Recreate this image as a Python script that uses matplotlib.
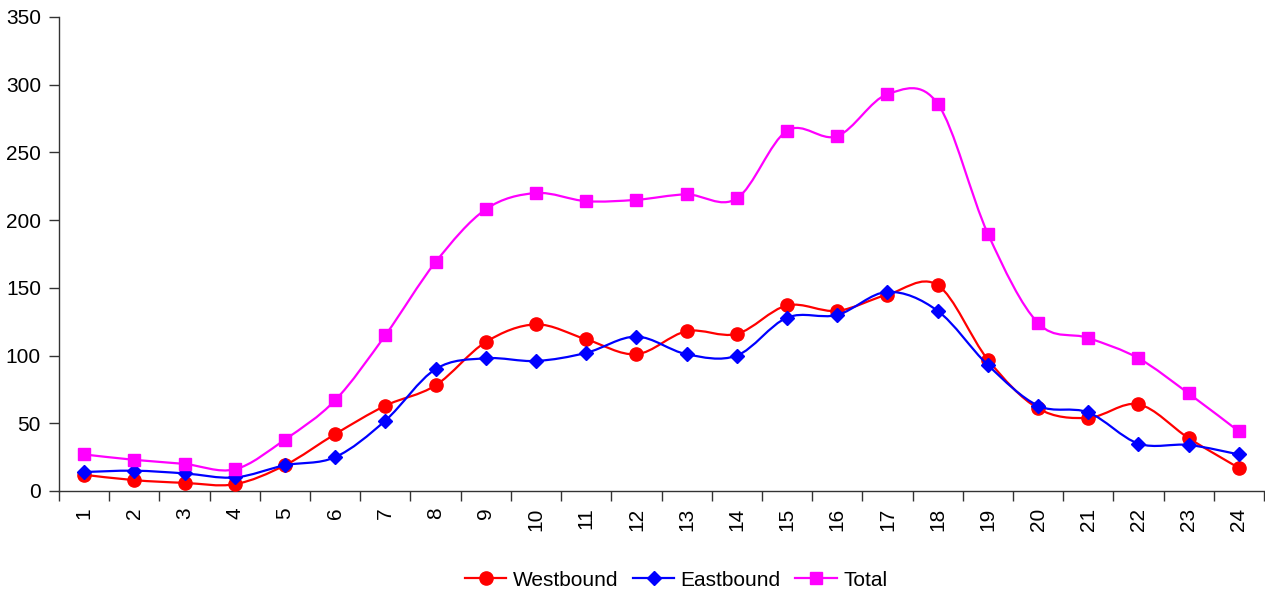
import matplotlib.pyplot as plt
import numpy as np
from matplotlib.path import Path
from matplotlib.patches import PathPatch
from matplotlib.lines import Line2D

plt.rcParams['font.family'] = ['Liberation Sans', 'DejaVu Sans']

# Data
hours = list(range(1, 25))
westbound = [12, 8, 6, 5, 19, 42, 63, 78, 110, 123, 112, 101, 118, 116,
             137, 133, 145, 152, 97, 61, 54, 64, 39, 17]
eastbound = [14, 15, 13, 10, 19, 25, 52, 90, 98, 96, 102, 114, 101, 100,
             128, 130, 147, 133, 93, 63, 58, 35, 34, 27]
total = [27, 23, 20, 16, 38, 67, 115, 169, 208, 220, 214, 215, 219, 216,
         266, 262, 293, 286, 190, 124, 113, 98, 72, 44]

series = [
    ('Westbound', westbound, '#FF0000', 'o', 9.5),
    ('Eastbound', eastbound, '#0000FF', 'D', 7),
    ('Total', total, '#FF00FF', 's', 9),
]


def smooth_path(x, y):
    # Excel-style smoothed line: cubic Bezier through each point
    p = np.column_stack([x, y]).astype(float)
    n = len(p)
    verts = [p[0]]
    codes = [Path.MOVETO]
    for i in range(n - 1):
        p0 = p[i - 1] if i > 0 else p[i]
        p3 = p[i + 2] if i + 2 < n else p[i + 1]
        c1 = p[i] + (p[i + 1] - p0) / 6.0
        c2 = p[i + 1] - (p3 - p[i]) / 6.0
        verts += [c1, c2, p[i + 1]]
        codes += [Path.CURVE4] * 3
    return Path(verts, codes)


fig = plt.figure(figsize=(12.65, 5.92), dpi=100)
ax = fig.add_axes([59 / 1265, 1 - 491 / 592, 1205 / 1265, 474 / 592])

handles = []
for i, (name, vals, col, mk, ms) in enumerate(series):
    patch = PathPatch(smooth_path(hours, vals), fill=False, edgecolor=col,
                      lw=1.6, zorder=2 + i * 2)
    ax.add_patch(patch)
    ax.plot(hours, vals, ls='none', marker=mk, ms=ms, color=col,
            markeredgecolor=col, zorder=3 + i * 2, clip_on=False)
    handles.append(Line2D([], [], color=col, lw=1.6, marker=mk, ms=ms,
                          markeredgecolor=col, label=name))

ax.set_xlim(0.5, 24.5)
ax.set_ylim(0, 350)
ax.set_yticks(range(0, 351, 50))
ax.set_xticks(np.arange(0.5, 25, 1))
ax.set_xticklabels([])
ax.set_xticks(hours, minor=True)
ax.set_xticklabels([str(h) for h in hours], minor=True, rotation=90)

ax.tick_params(axis='x', which='major', direction='out', length=7,
               width=1, color='#333333')
ax.tick_params(axis='x', which='minor', length=0, pad=12, labelsize=15)
ax.tick_params(axis='y', direction='out', length=7, width=1,
               color='#333333', pad=6, labelsize=15)

for s in ['top', 'right']:
    ax.spines[s].set_visible(False)
for s in ['left', 'bottom']:
    ax.spines[s].set_color('#333333')
    ax.spines[s].set_linewidth(1)

fig.legend(handles=handles, loc='center', ncol=3, frameon=False,
           bbox_to_anchor=(676 / 1265, 1 - 580 / 592), fontsize=15,
           handlelength=2.0, handletextpad=0.3, columnspacing=0.7)

fig.savefig('out.png', dpi=100)
